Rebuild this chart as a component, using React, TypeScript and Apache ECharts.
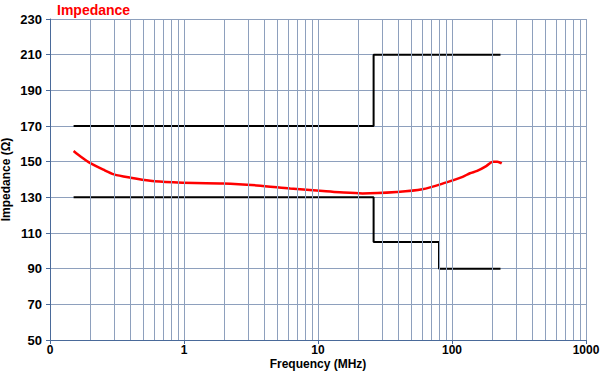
import React, { useEffect, useRef } from "react";
import * as echarts from "echarts";

const freqs = [0.15, 0.17, 0.2, 0.25, 0.3, 0.4, 0.56, 0.83, 1.2, 1.95, 3.5, 6.2, 10.9, 14.5, 21.5, 38.6, 60, 91, 120, 136, 154, 180, 202, 218, 235];
const impedance = [156, 152.8, 149.2, 145.5, 142.9, 141, 139.3, 138.4, 138, 137.8, 136.7, 135, 133.5, 132.8, 132.2, 133, 134.5, 138.4, 141.5, 143.5, 144.8, 147.5, 150, 150, 149];

const upperLimit: [number, number][] = [[0.15, 170], [26, 170], [26, 210], [230, 210]];
const lowerLimit: [number, number][] = [[0.15, 130], [26, 130], [26, 105], [80, 105], [80, 90], [230, 90]];

const gridFreqs = [0.2, 0.3, 0.4, 0.5, 0.6, 0.7, 0.8, 0.9, 1, 2, 3, 4, 5, 6, 7, 8, 9, 10, 20, 30, 40, 50, 60, 70, 80, 90, 100, 200, 300, 400, 500, 600, 700, 800, 900, 1000];

const FONT = "Liberation Sans";

export default function App() {
  const ref = useRef<HTMLDivElement>(null);
  useEffect(() => {
    if (!ref.current) return;
    const chart = echarts.init(ref.current, undefined, { renderer: "svg" });
    chart.setOption({
      animation: false,
      title: {
        text: "Impedance",
        left: 52,
        top: -2,
        textStyle: { color: "#ff0000", fontFamily: FONT, fontWeight: "bold", fontSize: 14 },
      },
      grid: { left: 50, right: 14, top: 19, bottom: 33, containLabel: false, outerBoundsMode: "none" },
      xAxis: {
        type: "log",
        logBase: 10,
        min: 0.1,
        max: 1000,
        name: "Frequency (MHz)",
        nameLocation: "middle",
        nameGap: 18,
        nameMoveOverlap: false,
        nameTextStyle: { fontFamily: FONT, fontWeight: "bold", fontSize: 12, color: "#000" },
        axisLine: { show: true, lineStyle: { color: "#4a6a9a", width: 1 } },
        axisTick: { show: true, length: 4, lineStyle: { color: "#4a6a9a" } },
        axisLabel: {
          fontFamily: FONT,
          fontWeight: "bold",
          fontSize: 12,
          color: "#000",
          margin: 4,
          formatter: (v: number) => (v < 1 ? "0" : String(Math.round(v))),
        },
        splitLine: { show: false },
      },
      yAxis: {
        type: "value",
        min: 50,
        max: 230,
        interval: 20,
        name: "Impedance (Ω)",
        nameLocation: "middle",
        nameGap: 38,
        nameMoveOverlap: false,
        nameTextStyle: { fontFamily: FONT, fontWeight: "bold", fontSize: 12, color: "#000" },
        axisLine: { show: true, lineStyle: { color: "#4a6a9a", width: 1 } },
        axisTick: { show: true, length: 4, lineStyle: { color: "#4a6a9a" } },
        axisLabel: { fontFamily: FONT, fontWeight: "bold", fontSize: 13, color: "#000", margin: 8 },
        splitLine: { show: true, lineStyle: { color: "#8ea0bd", width: 1 } },
      },
      series: [
        {
          type: "line",
          data: [],
          silent: true,
          markLine: {
            silent: true,
            symbol: "none",
            label: { show: false },
            lineStyle: { color: "#8ea0bd", width: 1, type: "solid" },
            data: gridFreqs.map((f) => ({ xAxis: f })),
          },
          z: 1,
        },
        {
          type: "line",
          data: upperLimit,
          showSymbol: false,
          lineStyle: { color: "#000", width: 2 },
          z: 3,
        },
        {
          type: "line",
          data: lowerLimit,
          showSymbol: false,
          lineStyle: { color: "#000", width: 2 },
          z: 3,
        },
        {
          type: "line",
          data: freqs.map((f, i) => [f, impedance[i]]),
          showSymbol: false,
          smooth: 0.3,
          lineStyle: { color: "#ff0000", width: 2.5 },
          z: 4,
        },
      ],
    });
    return () => chart.dispose();
  }, []);
  return <div ref={ref} style={{ width: 600, height: 373, position: "absolute", left: 0, top: 0 }} />;
}
